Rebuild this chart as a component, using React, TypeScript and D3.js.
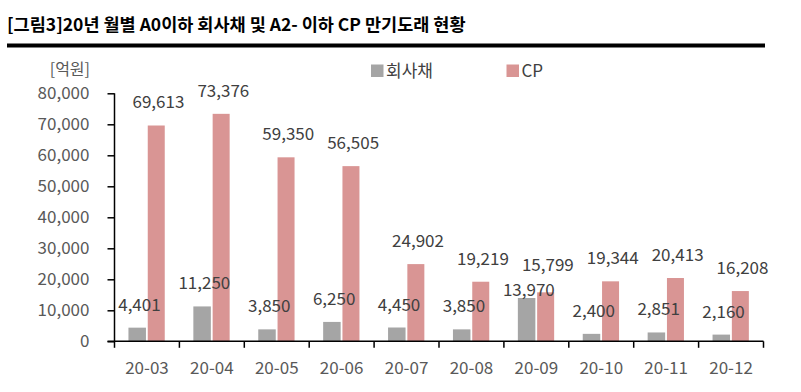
import React, { useEffect, useRef } from "react";
import * as d3 from "d3";

const months = ["20-03", "20-04", "20-05", "20-06", "20-07", "20-08", "20-09", "20-10", "20-11", "20-12"];
const corpBonds = [4401, 11250, 3850, 6250, 4450, 3850, 13970, 2400, 2851, 2160];
const cpValues = [69613, 73376, 59350, 56505, 24902, 19219, 15799, 19344, 20413, 16208];
const yTicks = [0, 10000, 20000, 30000, 40000, 50000, 60000, 70000, 80000];

const FONT = "'Malgun Gothic', 'Noto Sans CJK KR', sans-serif";
const GREY = "#a5a5a5";
const PINK = "#d99594";

const App = () => {
  const svgRef = useRef<SVGSVGElement>(null);

  useEffect(() => {
    document.body.style.margin = "0";
    const svg = d3.select(svgRef.current);
    svg.selectAll("*").remove();

    const width = 801,
      height = 392;
    const left = 114.5,
      right = 763.5,
      top = 93.3,
      bottom = 341.3;

    const x = d3.scaleBand().domain(months).range([left, right]);
    const y = d3.scaleLinear().domain([0, 80000]).range([bottom, top]);
    const barW = 17.5;

    svg.attr("width", width).attr("height", height);

    // title
    svg
      .append("text")
      .attr("x", 7)
      .attr("y", 31)
      .style("font-family", FONT)
      .style("font-weight", "bold")
      .style("font-size", "17.5px")
      .attr("fill", "#000")
      .text("[그림3]20년 월별 A0이하 회사채 및 A2- 이하 CP 만기도래 현황");

    svg
      .append("line")
      .attr("x1", 7)
      .attr("x2", 765)
      .attr("y1", 45.5)
      .attr("y2", 45.5)
      .attr("stroke", "#000")
      .attr("stroke-width", 4);

    // unit
    svg
      .append("text")
      .attr("x", 90)
      .attr("y", 75)
      .attr("text-anchor", "end")
      .style("font-family", FONT)
      .style("font-size", "16px")
      .attr("fill", "#595959")
      .text("[억원]");

    // legend
    const legend = [
      { name: "회사채", color: GREY, x: 371 },
      { name: "CP", color: PINK, x: 506.5 },
    ];
    const lg = svg.append("g");
    lg.selectAll("rect")
      .data(legend)
      .join("rect")
      .attr("x", (d) => d.x)
      .attr("y", 64.5)
      .attr("width", 12.5)
      .attr("height", 12.5)
      .attr("fill", (d) => d.color);
    lg.selectAll("text")
      .data(legend)
      .join("text")
      .attr("x", (d) => d.x + 15)
      .attr("y", 77)
      .style("font-family", FONT)
      .style("font-size", "17px")
      .attr("fill", "#404040")
      .text((d) => d.name);

    // bars
    const g = svg.append("g");
    g.selectAll(".corp")
      .data(months)
      .join("rect")
      .attr("x", (d) => x(d)! + x.bandwidth() / 2 - 1 - barW)
      .attr("y", (d, i) => y(corpBonds[i]))
      .attr("width", barW)
      .attr("height", (d, i) => bottom - y(corpBonds[i]))
      .attr("fill", GREY);
    g.selectAll(".cp")
      .data(months)
      .join("rect")
      .attr("x", (d) => x(d)! + x.bandwidth() / 2 + 0.8)
      .attr("y", (d, i) => y(cpValues[i]))
      .attr("width", barW - 0.5)
      .attr("height", (d, i) => bottom - y(cpValues[i]))
      .attr("fill", PINK);

    // data labels (20-09 labels were nudged in the original to avoid overlap)
    const nudge: Record<string, [number, number]> = { "20-09": [15, -4] };
    const fmt = d3.format(",");
    g.selectAll(".corpLabel")
      .data(months)
      .join("text")
      .attr("x", (d) => x(d)! + x.bandwidth() / 2 - 10 + 2.5)
      .attr("y", (d, i) => y(corpBonds[i]) - 17 + (nudge[d] ? nudge[d][0] : 0))
      .attr("text-anchor", "middle")
      .style("font-family", FONT)
      .style("font-size", "17px")
      .attr("fill", "#404040")
      .text((d, i) => fmt(corpBonds[i]));
    g.selectAll(".cpLabel")
      .data(months)
      .join("text")
      .attr("x", (d) => x(d)! + x.bandwidth() / 2 + 9.5 + 2)
      .attr("y", (d, i) => y(cpValues[i]) - 17 + (nudge[d] ? nudge[d][1] : 0))
      .attr("text-anchor", "middle")
      .style("font-family", FONT)
      .style("font-size", "17px")
      .attr("fill", "#404040")
      .text((d, i) => fmt(cpValues[i]));

    // y axis
    const yAxis = svg
      .append("g")
      .attr("transform", `translate(${left},0)`)
      .call(
        d3
          .axisLeft(y)
          .tickValues(yTicks)
          .tickSize(7)
          .tickPadding(18)
          .tickFormat((d) => fmt(d as number))
      );
    yAxis.select(".domain").attr("stroke", "#000").attr("stroke-width", 1.5).attr("d", `M0,${top}V${bottom}`);
    yAxis.selectAll(".tick line").attr("stroke", "#000").attr("stroke-width", 1.5);
    yAxis
      .selectAll(".tick text")
      .style("font-family", FONT)
      .style("font-size", "17px")
      .attr("fill", "#595959");

    // x axis
    const xg = svg.append("g").attr("transform", `translate(0,${bottom})`);
    xg.append("line")
      .attr("x1", left - 7)
      .attr("x2", right)
      .attr("stroke", "#000")
      .attr("stroke-width", 1.5);
    const bounds = months.map((m) => x(m)!).concat([right]);
    xg.selectAll(".xt")
      .data(bounds)
      .join("line")
      .attr("x1", (d) => d)
      .attr("x2", (d) => d)
      .attr("y1", 0)
      .attr("y2", 6.5)
      .attr("stroke", "#000")
      .attr("stroke-width", 1.5);
    xg.selectAll(".xl")
      .data(months)
      .join("text")
      .attr("x", (d) => x(d)! + x.bandwidth() / 2)
      .attr("y", 33)
      .attr("text-anchor", "middle")
      .style("font-family", FONT)
      .style("font-size", "17px")
      .attr("fill", "#595959")
      .text((d) => d);
  }, []);

  return <svg ref={svgRef} style={{ display: "block" }} />;
};

export default App;
